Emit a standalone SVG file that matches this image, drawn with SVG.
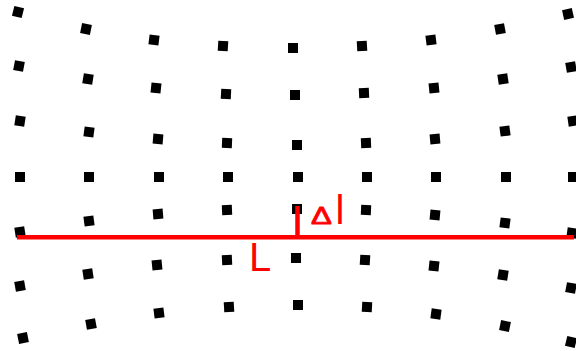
<svg xmlns="http://www.w3.org/2000/svg" xmlns:xlink="http://www.w3.org/1999/xlink" width="576" height="351" viewBox="0 0 576 351">
<style>
.red{stroke:#ff0000;stroke-width:4.5;fill:none}
.lbl{fill:#ff0000;font-family:"Liberation Sans",Arial,sans-serif}
</style>
<defs><rect id="s" x="-5" y="-5" width="10" height="10" fill="#000"/></defs>
<rect width="576" height="351" fill="#fff"/>
<g id="grid">
<use xlink:href="#s" transform="translate(18,12) rotate(14)"/>
<use xlink:href="#s" transform="translate(86,29) rotate(11.6)"/>
<use xlink:href="#s" transform="translate(154,40) rotate(7)"/>
<use xlink:href="#s" transform="translate(223,46) rotate(3.3)"/>
<use xlink:href="#s" transform="translate(293,48)"/>
<use xlink:href="#s" transform="translate(362,46) rotate(-3.3)"/>
<use xlink:href="#s" transform="translate(431,40) rotate(-7)"/>
<use xlink:href="#s" transform="translate(500,29) rotate(-10.7)"/>
<use xlink:href="#s" transform="translate(568,14) rotate(-12.4)"/>

<use xlink:href="#s" transform="translate(19,66) rotate(10.7)"/>
<use xlink:href="#s" transform="translate(88,79) rotate(9.1)"/>
<use xlink:href="#s" transform="translate(156,88) rotate(6.2)"/>
<use xlink:href="#s" transform="translate(226,94) rotate(2.9)"/>
<use xlink:href="#s" transform="translate(295,95)"/>
<use xlink:href="#s" transform="translate(364,93) rotate(-2.5)"/>
<use xlink:href="#s" transform="translate(434,88) rotate(-5.8)"/>
<use xlink:href="#s" transform="translate(503,79) rotate(-8.7)"/>
<use xlink:href="#s" transform="translate(571,67) rotate(-10)"/>

<use xlink:href="#s" transform="translate(20,121) rotate(9)"/>
<use xlink:href="#s" transform="translate(89,132) rotate(7.4)"/>
<use xlink:href="#s" transform="translate(158,139) rotate(4.6)"/>
<use xlink:href="#s" transform="translate(227,143) rotate(2.5)"/>
<use xlink:href="#s" transform="translate(297,145)"/>
<use xlink:href="#s" transform="translate(366,143) rotate(-2.5)"/>
<use xlink:href="#s" transform="translate(435,139) rotate(-5)"/>
<use xlink:href="#s" transform="translate(505,131) rotate(-7.4)"/>
<use xlink:href="#s" transform="translate(573,121) rotate(-8.2)"/>

<use xlink:href="#s" transform="translate(20,177)"/>
<use xlink:href="#s" transform="translate(89,177)"/>
<use xlink:href="#s" transform="translate(159,177)"/>
<use xlink:href="#s" transform="translate(228,177)"/>
<use xlink:href="#s" transform="translate(298,177)"/>
<use xlink:href="#s" transform="translate(367,177)"/>
<use xlink:href="#s" transform="translate(436,177)"/>
<use xlink:href="#s" transform="translate(506,177)"/>
<use xlink:href="#s" transform="translate(573,177)"/>

<use xlink:href="#s" transform="translate(20,232) rotate(-9)"/>
<use xlink:href="#s" transform="translate(89,221) rotate(-7.4)"/>
<use xlink:href="#s" transform="translate(158,214) rotate(-4.6)"/>
<use xlink:href="#s" transform="translate(227,210) rotate(-2.5)"/>
<use xlink:href="#s" transform="translate(297,209)"/>
<use xlink:href="#s" transform="translate(366,210) rotate(2.5)"/>
<use xlink:href="#s" transform="translate(435,215) rotate(5.4)"/>
<use xlink:href="#s" transform="translate(505,223) rotate(7.4)"/>
<use xlink:href="#s" transform="translate(572,233) rotate(8.2)"/>

<use xlink:href="#s" transform="translate(20,286) rotate(-10)"/>
<use xlink:href="#s" transform="translate(88,274) rotate(-8.7)"/>
<use xlink:href="#s" transform="translate(157,265) rotate(-5.8)"/>
<use xlink:href="#s" transform="translate(227,260) rotate(-2.9)"/>
<use xlink:href="#s" transform="translate(296,258)"/>
<use xlink:href="#s" transform="translate(365,260) rotate(3.3)"/>
<use xlink:href="#s" transform="translate(434,266) rotate(6.2)"/>
<use xlink:href="#s" transform="translate(503,275) rotate(9.1)"/>
<use xlink:href="#s" transform="translate(571,288) rotate(10.8)"/>

<use xlink:href="#s" transform="translate(23,338) rotate(-11.6)"/>
<use xlink:href="#s" transform="translate(91,324) rotate(-10.4)"/>
<use xlink:href="#s" transform="translate(159,313) rotate(-7)"/>
<use xlink:href="#s" transform="translate(229,307) rotate(-3.3)"/>
<use xlink:href="#s" transform="translate(298,305)"/>
<use xlink:href="#s" transform="translate(367,307) rotate(2.9)"/>
<use xlink:href="#s" transform="translate(436,314) rotate(7.8)"/>
<use xlink:href="#s" transform="translate(505,326) rotate(11.7)"/>
<use xlink:href="#s" transform="translate(571,342) rotate(13.6)"/>
</g>
<g id="connectors">
<line class="red" x1="17" y1="237.2" x2="574" y2="237.2"/>
<line class="red" x1="297.5" y1="206" x2="297.5" y2="237"/>
</g>
<g id="labels">
<text class="lbl" font-size="24" stroke="#ff0000" stroke-width="0.8" transform="translate(311,224) scale(1.3,1)">Δ</text>
<text class="lbl" x="335.5" y="224" font-size="40">l</text>
<text class="lbl" x="249" y="271" font-size="40">L</text>
</g>
</svg>
